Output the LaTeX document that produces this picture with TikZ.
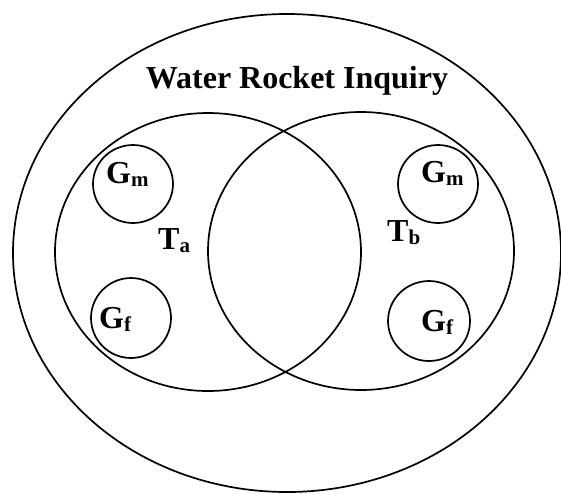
\documentclass[tikz,border=0pt]{standalone}
\usepackage{fontspec}
\setmainfont{Liberation Serif}
\usetikzlibrary{shapes.geometric}
\tikzset{
  ring/.style={draw=black, line width=1.7pt, ellipse, inner sep=0pt},
  lbl/.style={inner sep=0pt, anchor=base west, font=\fontsize{32}{32}\selectfont\bfseries},
}
\newcommand{\subs}[1]{\raisebox{-3pt}{\fontsize{21}{21}\selectfont\bfseries #1}}
\begin{document}
\begin{tikzpicture}[x=1pt,y=-1pt]
\useasboundingbox (0,0) rectangle (561,493);
\node[ring, minimum width=548pt, minimum height=478pt] (outer) at (287,253) {};
\node[ring, minimum width=306pt, minimum height=278pt] (ta) at (208,252) {};
\node[ring, minimum width=306pt, minimum height=278pt] (tb) at (361,251) {};
\node[ring, minimum width=80pt, minimum height=78pt] (gm1) at (133,184) {};
\node[ring, minimum width=80pt, minimum height=78pt] (gm2) at (438,184) {};
\node[ring, minimum width=80pt, minimum height=80pt] (gf1) at (131,318) {};
\node[ring, minimum width=82pt, minimum height=80pt] (gf2) at (429,321) {};
\node[inner sep=0pt, anchor=base, font=\fontsize{32}{32}\selectfont\bfseries] (title) at (297,88) {Water Rocket Inquiry};
\node[lbl] (tal) at (158,249) {T\subs{a}};
\node[lbl] (tbl) at (387,241) {T\subs{b}};
\node[lbl] (gm1l) at (106,183) {G\subs{m}};
\node[lbl] (gm2l) at (421,182) {G\subs{m}};
\node[lbl] (gf1l) at (99,328) {G\subs{f}};
\node[lbl] (gf2l) at (421,331) {G\subs{f}};
\end{tikzpicture}
\end{document}
